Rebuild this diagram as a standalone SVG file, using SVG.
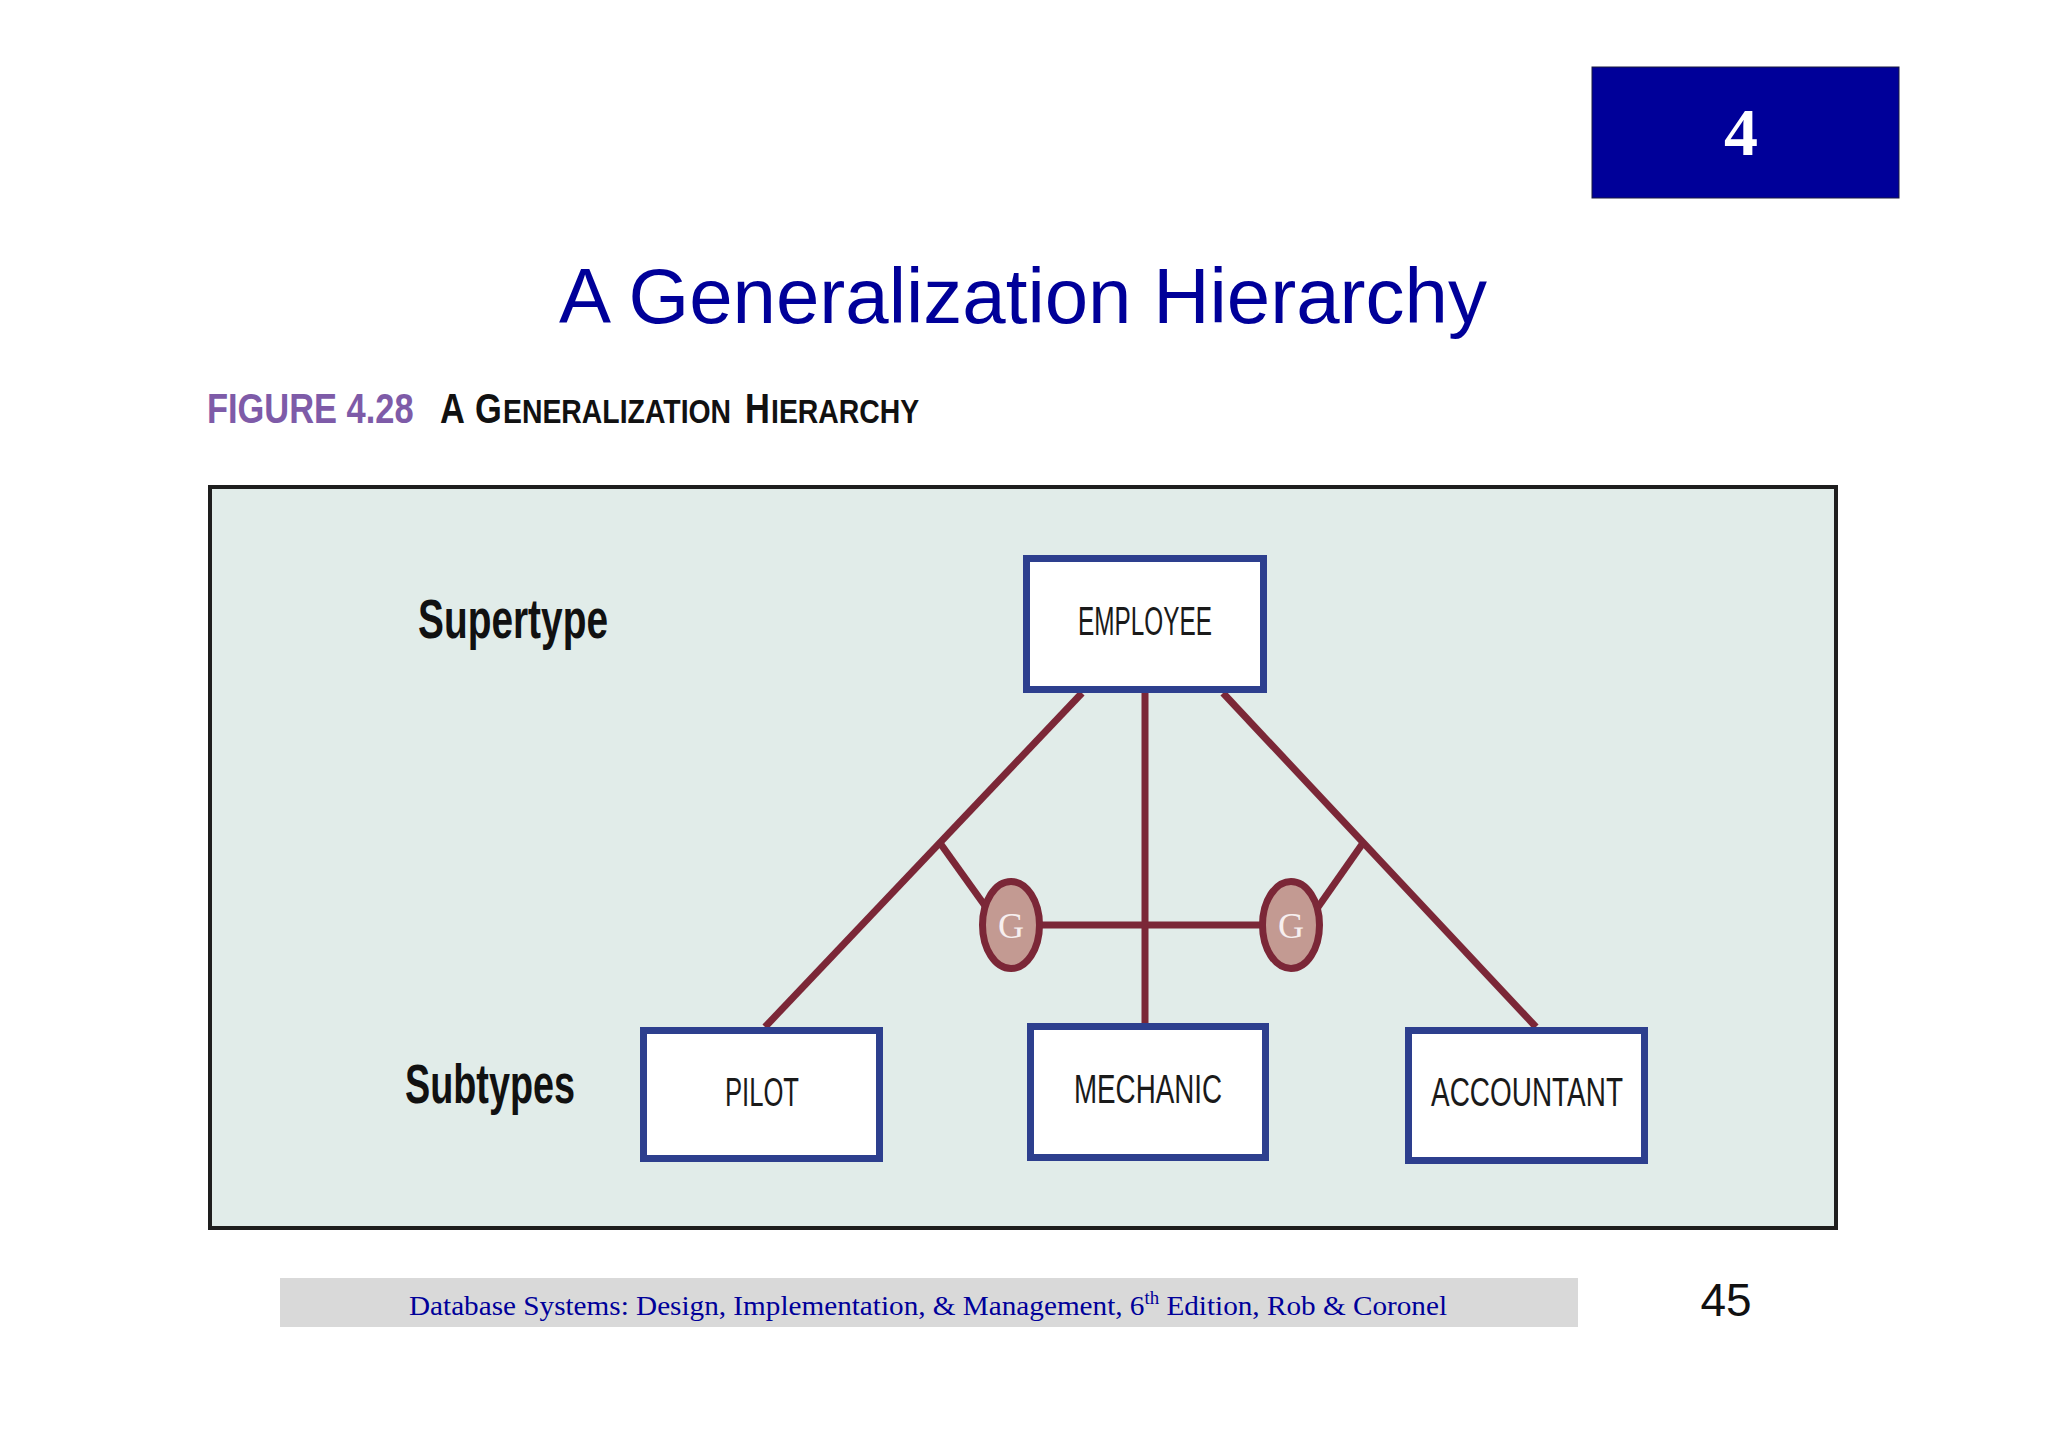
<svg xmlns="http://www.w3.org/2000/svg" width="2048" height="1447" viewBox="0 0 2048 1447">
<style>
.ent{fill:#ffffff;stroke:#2D3F8E;stroke-width:7}
.elab{font-family:"Liberation Sans",Arial,sans-serif;font-size:40px;fill:#1a1a1a;text-anchor:middle}
.con{stroke:#7B2737;stroke-width:7;fill:none;stroke-linecap:butt}
.gc{fill:#C39A92;stroke:#7B2737;stroke-width:7}
.gt{font-family:"Liberation Serif","Times New Roman",serif;font-size:36px;fill:#F7EFEF;text-anchor:middle}
.side{font-family:"Liberation Sans",Arial,sans-serif;font-weight:bold;font-size:56px;fill:#111111}
.cap{font-family:"Liberation Sans",Arial,sans-serif;font-weight:bold;fill:#111111}
</style>
<rect x="0" y="0" width="2048" height="1447" fill="#ffffff"/>
<g id="chapter-badge">
<rect x="1592" y="67" width="307" height="131" fill="#000099" stroke="#1a1a40" stroke-width="1"/>
<text x="1741" y="155" font-family="Liberation Serif,'Times New Roman',serif" font-weight="bold" font-size="68" fill="#ffffff" text-anchor="middle">4</text>
</g>
<text id="title" x="1023" y="323" font-family="Liberation Sans,Arial,sans-serif" font-size="78" fill="#000099" text-anchor="middle">A Generalization Hierarchy</text>
<g id="caption">
<text transform="translate(207,423) scale(0.82,1)" x="0" y="0" font-family="Liberation Sans,Arial,sans-serif" font-weight="bold" font-size="42" fill="#7E5BA8">FIGURE 4.28</text>
<text class="cap" transform="translate(440,423) scale(0.82,1)" x="0" y="0" font-size="42">A</text>
<text class="cap" transform="translate(475,423) scale(0.82,1)" x="0" y="0" font-size="42">G</text>
<text class="cap" transform="translate(503,423) scale(0.835,1)" x="0" y="0" font-size="34">ENERALIZATION</text>
<text class="cap" transform="translate(745,423) scale(0.82,1)" x="0" y="0" font-size="42">H</text>
<text class="cap" transform="translate(771,423) scale(0.835,1)" x="0" y="0" font-size="34">IERARCHY</text>
</g>
<rect id="panel" x="210" y="487" width="1626" height="741" fill="#E1ECE9" stroke="#1e1e1e" stroke-width="4"/>
<text id="supertype-label" class="side" x="418" y="638" textLength="190" lengthAdjust="spacingAndGlyphs">Supertype</text>
<text id="subtypes-label" class="side" x="405" y="1103" textLength="170" lengthAdjust="spacingAndGlyphs">Subtypes</text>
<g id="connectors">
<line class="con" x1="1082" y1="693" x2="765" y2="1027"/>
<line class="con" x1="1223" y1="693" x2="1536" y2="1027"/>
<line class="con" x1="1145" y1="693" x2="1145" y2="1023"/>
<line class="con" x1="940" y1="843" x2="988" y2="910"/>
<line class="con" x1="1363" y1="843" x2="1316" y2="910"/>
<line class="con" x1="1011" y1="925" x2="1291" y2="925"/>
</g>
<g id="employee">
<rect class="ent" x="1026.5" y="558.5" width="237" height="131"/>
<text class="elab" x="1145" y="635" textLength="134" lengthAdjust="spacingAndGlyphs">EMPLOYEE</text>
</g>
<g id="pilot">
<rect class="ent" x="643.5" y="1030.5" width="236" height="128"/>
<text class="elab" x="762" y="1106" textLength="74" lengthAdjust="spacingAndGlyphs">PILOT</text>
</g>
<g id="mechanic">
<rect class="ent" x="1030.5" y="1026.5" width="235" height="131"/>
<text class="elab" x="1148" y="1103" textLength="148" lengthAdjust="spacingAndGlyphs">MECHANIC</text>
</g>
<g id="accountant">
<rect class="ent" x="1408.5" y="1030.5" width="236" height="130"/>
<text class="elab" x="1527" y="1106" textLength="192" lengthAdjust="spacingAndGlyphs">ACCOUNTANT</text>
</g>
<g id="g-left">
<ellipse class="gc" cx="1011" cy="925" rx="28.5" ry="43.5"/>
<text class="gt" x="1011" y="938">G</text>
</g>
<g id="g-right">
<ellipse class="gc" cx="1291" cy="925" rx="28.5" ry="43.5"/>
<text class="gt" x="1291" y="938">G</text>
</g>
<g id="footer">
<rect x="280" y="1278" width="1298" height="49" fill="#D9D9D9"/>
<text x="409" y="1315" font-family="Liberation Serif,'Times New Roman',serif" font-size="28" fill="#000099" textLength="1038" lengthAdjust="spacingAndGlyphs">Database Systems: Design, Implementation, &amp; Management, 6<tspan font-size="18" dy="-11">th</tspan><tspan dy="11"> Edition, Rob &amp; Coronel</tspan></text>
<text x="1726" y="1316" font-family="Liberation Sans,Arial,sans-serif" font-size="46" fill="#111111" text-anchor="middle">45</text>
</g>
</svg>
